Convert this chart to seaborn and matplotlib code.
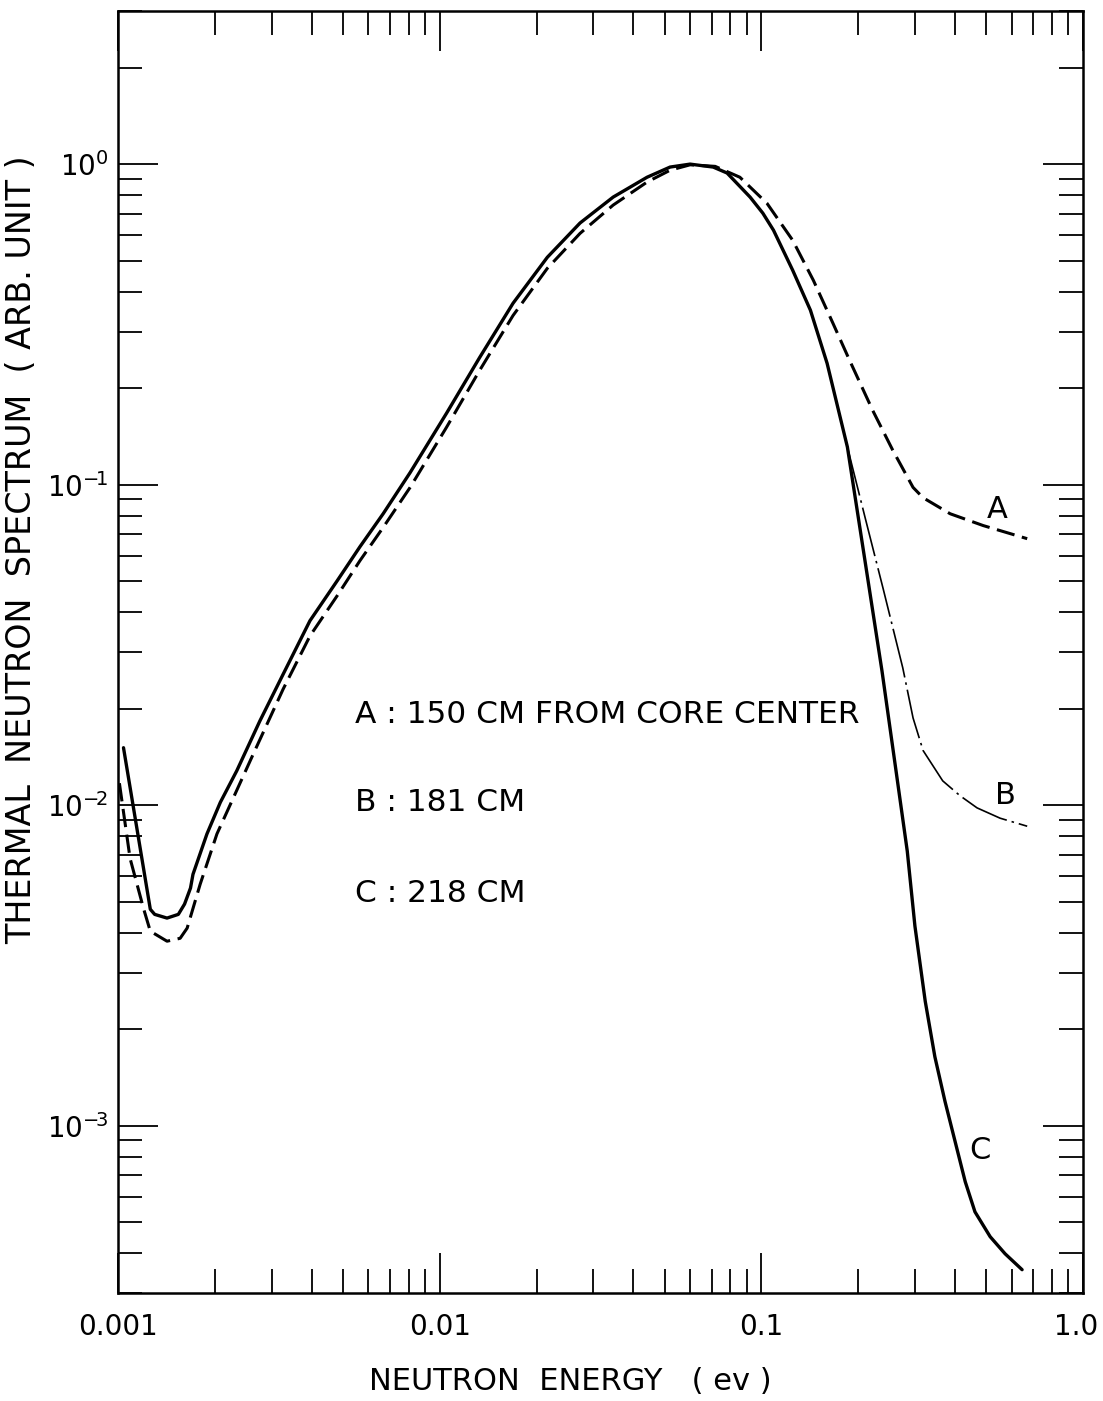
import numpy as np
import matplotlib
matplotlib.use("Agg")
import matplotlib.pyplot as plt
import matplotlib.transforms as mtransforms
import seaborn as sns
from matplotlib.ticker import LogLocator, NullFormatter

# curve C : 218 cm (solid)
energy_c = [0.00104, 0.00126, 0.00130, 0.00142, 0.00154, 0.00161, 0.00168, 0.00171,
            0.00189, 0.00208, 0.00234, 0.00276, 0.00326, 0.00395, 0.00480, 0.00565,
            0.00667, 0.00809, 0.0105, 0.0133, 0.0169, 0.0216, 0.0273, 0.0346,
            0.0441, 0.0520, 0.0600, 0.0708, 0.0782, 0.0922, 0.101, 0.109, 0.125,
            0.142, 0.160, 0.185, 0.211, 0.237, 0.262, 0.284, 0.300, 0.323, 0.346,
            0.372, 0.400, 0.430, 0.461, 0.514, 0.572, 0.646]
flux_c = [0.0151, 0.00473, 0.00456, 0.00444, 0.00456, 0.00491, 0.00551, 0.00608,
          0.00813, 0.0102, 0.0128, 0.0183, 0.0256, 0.0376, 0.0501, 0.0640,
          0.0811, 0.109, 0.167, 0.249, 0.368, 0.512, 0.655, 0.789,
          0.910, 0.979, 1.0, 0.979, 0.938, 0.789, 0.703, 0.622, 0.467,
          0.350, 0.239, 0.131, 0.0558, 0.0262, 0.0128, 0.00718, 0.00419, 0.00244, 0.00164,
          0.00119, 0.000891, 0.000668, 0.000538, 0.000450, 0.000398, 0.000355]

# curve B : 181 cm (dash-dot), runs on top of C below ~0.18 eV
energy_b = [0.101, 0.109, 0.125, 0.142, 0.160, 0.185, 0.210, 0.239, 0.275, 0.296,
            0.318, 0.366, 0.414, 0.468, 0.552, 0.670]
flux_b = [0.703, 0.622, 0.467, 0.350, 0.239, 0.131, 0.0789, 0.0473, 0.0268, 0.0187,
          0.0148, 0.0119, 0.0107, 0.00980, 0.00910, 0.00859]

# curve A : 150 cm from core center (dashed)
energy_a = [0.00101, 0.00109, 0.00120, 0.00126, 0.00142, 0.00156, 0.00164, 0.00180,
            0.00203, 0.00263, 0.00326, 0.00395, 0.00480, 0.00565, 0.00667, 0.00809,
            0.0105, 0.0133, 0.0169, 0.0216, 0.0273, 0.0346, 0.0441, 0.0520, 0.0600,
            0.0718, 0.0857, 0.104, 0.125, 0.145, 0.167, 0.188, 0.222, 0.256, 0.296,
            0.318, 0.386, 0.489, 0.670]
flux_a = [0.0117, 0.00682, 0.00476, 0.00404, 0.00376, 0.00384, 0.00413, 0.00566,
          0.00813, 0.0144, 0.0230, 0.0337, 0.0450, 0.0579, 0.0735, 0.0980,
          0.151, 0.227, 0.337, 0.473, 0.608, 0.745, 0.879, 0.957, 0.995,
          0.984, 0.910, 0.755, 0.579, 0.434, 0.318, 0.244, 0.170, 0.128, 0.0980,
          0.0910, 0.0811, 0.0745, 0.0678]

x_ticks = [0.001, 0.01, 0.1, 1.0]
x_ticklabels = ["0.001", "0.01", "0.1", "1.0"]
y_ticks = [1e-3, 1e-2, 1e-1, 1.0]
y_ticklabels = [r"$10^{-\!3}$", r"$10^{-\!2}$", r"$10^{-\!1}$", r"$10^{0}$"]

legend_lines = ["A : 150 CM FROM CORE CENTER", "B : 181 CM", "C : 218 CM"]

sns.set_style("ticks")
plt.rcParams["font.family"] = ["DejaVu Sans"]
plt.rcParams["mathtext.fontset"] = "dejavusans"
for key in ["text.color", "axes.labelcolor", "xtick.color", "ytick.color", "axes.edgecolor"]:
    plt.rcParams[key] = "black"

fig, ax = plt.subplots(figsize=(11.03, 14.01), dpi=100)
fig.subplots_adjust(left=0.107, right=0.982, bottom=0.077, top=0.992)

sns.lineplot(x=energy_a, y=flux_a, ax=ax, color="black", linewidth=2.2,
             linestyle=(0, (6, 2.5)))
sns.lineplot(x=energy_b, y=flux_b, ax=ax, color="black", linewidth=1.2,
             linestyle=(0, (30, 3, 1.5, 3)))
sns.lineplot(x=energy_c, y=flux_c, ax=ax, color="black", linewidth=2.4)

ax.set_xscale("log")
ax.set_yscale("log")
ax.set_xlim(1e-3, 1.0)
ax.set_ylim(3e-4, 3)

ax.set_xticks(x_ticks)
ax.set_xticklabels(x_ticklabels)
ax.set_yticks(y_ticks)
ax.set_yticklabels(y_ticklabels)
for axis in (ax.xaxis, ax.yaxis):
    axis.set_minor_locator(LogLocator(base=10, subs=np.arange(2, 10), numticks=30))
    axis.set_minor_formatter(NullFormatter())

ax.tick_params(which="both", direction="in", top=True, right=True, width=1.3)
ax.tick_params(which="major", length=29)
ax.tick_params(which="minor", length=17)
ax.tick_params(axis="x", labelsize=20, pad=14)
ax.tick_params(axis="y", labelsize=20, pad=7)
for sp in ax.spines.values():
    sp.set_linewidth(1.8)

# nudge the last x label so it stays inside the canvas
last = ax.get_xticklabels()[-1]
last.set_transform(last.get_transform() +
                   mtransforms.ScaledTranslation(-5 / 72, 0, fig.dpi_scale_trans))

ax.set_xlabel("NEUTRON  ENERGY   ( ev )", fontsize=22)
ax.xaxis.set_label_coords(0.469, -0.058)
ax.set_ylabel("THERMAL  NEUTRON  SPECTRUM  ( ARB. UNIT )", fontsize=24)
ax.yaxis.set_label_coords(-0.083, 0.58)

for txt, yf in zip(legend_lines, [0.451, 0.383, 0.312]):
    ax.text(0.2456, yf, txt, transform=ax.transAxes, fontsize=22.5, va="center", ha="left")

for lab, xf, yf in [("A", 0.911, 0.611), ("B", 0.919, 0.388), ("C", 0.893, 0.1115)]:
    ax.text(xf, yf, lab, transform=ax.transAxes, fontsize=22, va="center", ha="center")

fig.savefig("out.png", dpi=100)
